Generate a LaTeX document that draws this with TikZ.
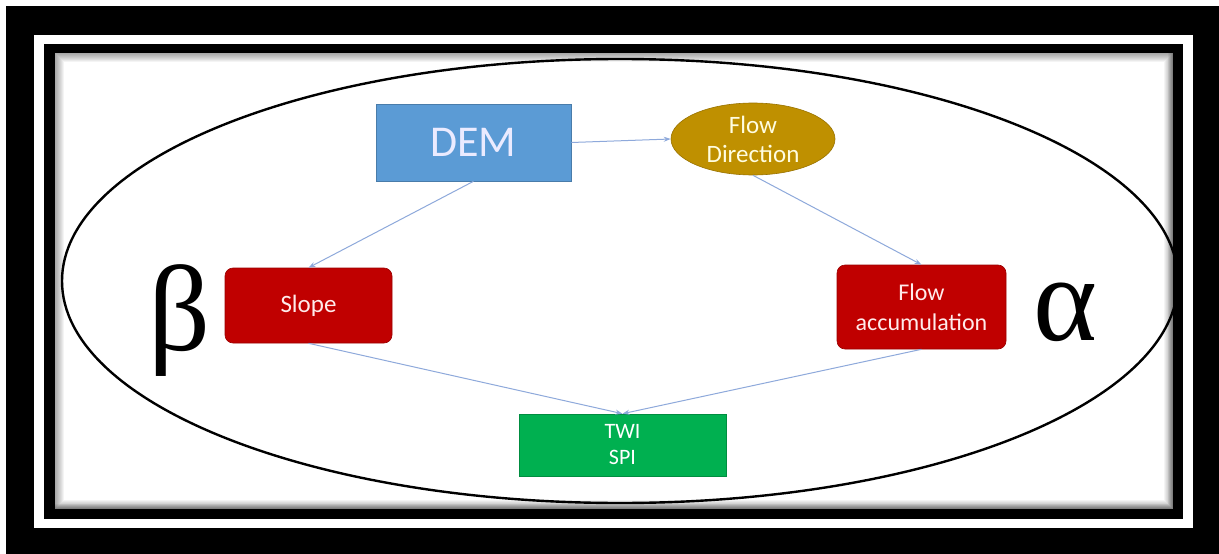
\documentclass[tikz,border=0pt]{standalone}
\usepackage{fontspec}
\setmainfont{Carlito}
\newfontfamily\grk{Liberation Serif}
\usetikzlibrary{shapes.geometric,arrows.meta}
\definecolor{demblue}{HTML}{5B9BD5}
\definecolor{gold}{HTML}{BF9000}
\definecolor{boxred}{HTML}{C00000}
\definecolor{boxgreen}{HTML}{00B050}
\definecolor{linkblue}{HTML}{8EA9DB}
\tikzset{
  box/.style={draw=#1!80!black, fill=#1, line width=0.6pt, inner sep=0pt, align=center, text=white},
  redbox/.style={box=boxred, rounded corners=8pt, font=\fontsize{24}{30}\selectfont, text=white!92!red},
  link/.style={draw=linkblue, line width=1pt, -{Stealth[length=7pt,width=5pt]}},
  greek/.style={font=\grk\fontsize{122}{122}\selectfont, inner sep=0pt, anchor=base}
}
\begin{document}
\begin{tikzpicture}[x=1pt,y=-1pt]
\useasboundingbox (0,0) rectangle (1219,554);
% frames
\fill[white] (0,0) rectangle (1219,554);
\fill[black] (6,6) rectangle (1219,554);
\fill[white] (34,35) rectangle (1193,528);
\fill[black] (44,44) rectangle (1183,519);
\fill[white] (55,53) rectangle (1173,509);
\begin{scope}
\clip (55,53) rectangle (1173,509);
\foreach \k in {1,...,9}
  \draw[black, opacity=0.045, line width=2*\k pt] (55,53) rectangle (1173,509);
\foreach \k in {1,...,5}
  \draw[black, opacity=0.05, line width=2*\k pt] (1173,53) -- (1173,509) -- (55,509);
% ellipse
\draw[black, line width=2.4pt] (620,281) ellipse [x radius=558, y radius=222];
\end{scope}
% nodes
\node[box=demblue, minimum width=195pt, minimum height=77pt, font=\fontsize{44}{44}\selectfont, text=white!92!blue] (dem) at (473.5,142.5) {DEM};
\node[box=gold, ellipse, minimum width=164pt, minimum height=72pt, font=\fontsize{25}{29}\selectfont, text=yellow!12!white] (fd) at (753,139) {Flow\\Direction};
\node[redbox, minimum width=167pt, minimum height=75pt, font=\fontsize{25}{30}\selectfont] (slope) at (308.5,305.5) {Slope};
\node[redbox, minimum width=169pt, minimum height=84pt] (fa) at (921.5,307) {Flow\\accumulation};
\node[box=boxgreen, minimum width=207pt, minimum height=62pt, font=\fontsize{22}{26}\selectfont] (twi) at (622.5,445) {TWI\\SPI};
\node[greek] (beta) at (180,350) {β};
\node[greek] (alpha) at (1065,340) {α};
% connectors
\draw[link] (dem.east) -- (fd.west);
\draw[link] (dem.south) -- (slope.north);
\draw[link] (fd.south) -- (fa.north);
\draw[link] (slope.south) -- (twi.north);
\draw[link] (fa.south) -- (twi.north);
\end{tikzpicture}
\end{document}
